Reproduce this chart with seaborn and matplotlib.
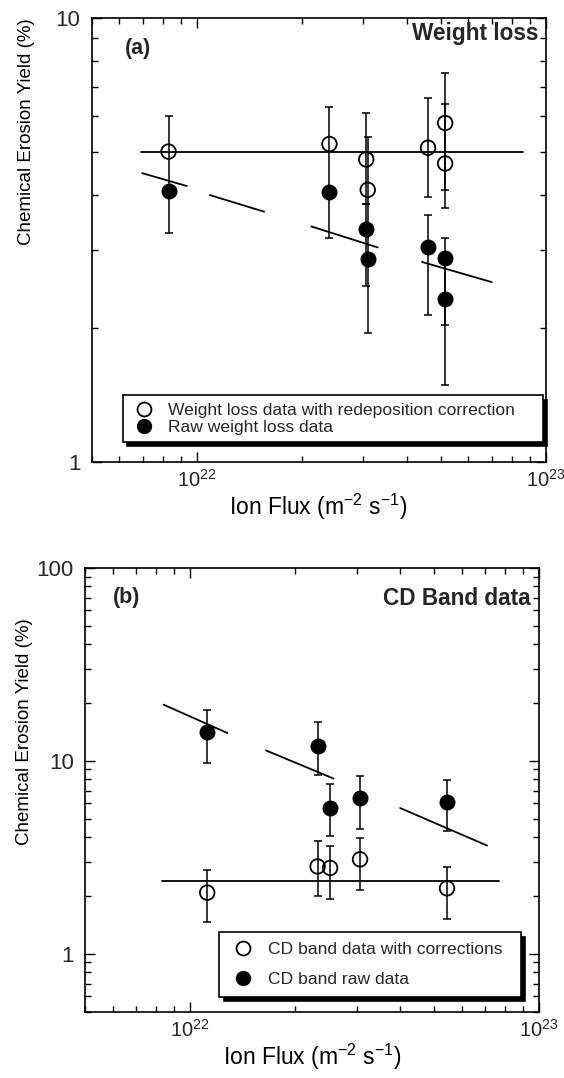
import numpy as np
import pandas as pd
import seaborn as sns
import matplotlib
matplotlib.use("Agg")
import matplotlib.pyplot as plt
from matplotlib.lines import Line2D
from matplotlib.ticker import LogLocator, NullFormatter, FuncFormatter

sns.set_theme(style="ticks")
plt.rcParams['font.family'] = ['Liberation Sans', 'DejaVu Sans']
plt.rcParams['mathtext.fontset'] = 'custom'
plt.rcParams['mathtext.rm'] = 'Liberation Sans'
plt.rcParams['mathtext.it'] = 'Liberation Sans'

# ---- panel (a): weight loss ----
a_open_x = [8.3e21, 2.4e22, 3.06e22, 3.09e22, 4.6e22, 5.15e22, 5.15e22]
a_open_y = [5.0, 5.2, 4.8, 4.1, 5.1, 5.8, 4.7]
a_open_lo = [4.1, 4.1, 3.8, 3.35, 3.96, 4.1, 3.74]
a_open_hi = [6.0, 6.3, 6.1, 5.4, 6.6, 7.5, 6.4]

a_raw_x = [8.3e21, 2.4e22, 3.06e22, 3.09e22, 4.6e22, 5.15e22, 5.15e22]
a_raw_y = [4.08, 4.06, 3.35, 2.86, 3.05, 2.88, 2.33]
a_raw_lo = [3.27, 3.2, 2.49, 1.95, 2.14, 2.03, 1.49]
a_raw_hi = [4.08, 4.06, 3.8, 3.35, 3.6, 3.19, 2.88]

a_flat_x = [6.9e21, 8.6e22]
a_flat_y = [5.0, 5.0]
a_fit_seg = [0, 0, 1, 1, 2, 2, 3, 3]
a_fit_x = [6.98e21, 9.37e21, 1.09e22, 1.56e22, 2.13e22, 3.30e22, 4.42e22, 7.0e22]
a_fit_y = [4.47, 4.18, 3.99, 3.66, 3.39, 3.04, 2.82, 2.54]

# ---- panel (b): CD band ----
b_open_x = [1.12e22, 2.32e22, 2.52e22, 3.07e22, 5.45e22]
b_open_y = [2.07, 2.83, 2.78, 3.08, 2.18]
b_open_lo = [1.45, 2.0, 1.93, 2.13, 1.52]
b_open_hi = [2.70, 3.82, 3.6, 3.99, 2.81]

b_raw_x = [1.12e22, 2.32e22, 2.52e22, 3.07e22, 5.45e22]
b_raw_y = [14.1, 11.9, 5.7, 6.4, 6.1]
b_raw_lo = [9.76, 8.46, 4.05, 4.44, 4.32]
b_raw_hi = [18.2, 15.8, 7.6, 8.3, 7.9]

b_flat_x = [8.3e21, 7.7e22]
b_flat_y = [2.38, 2.38]
b_fit_seg = [0, 0, 1, 1, 2, 2]
b_fit_x = [8.4e21, 1.28e22, 1.65e22, 2.58e22, 4.0e22, 7.1e22]
b_fit_y = [19.5, 13.9, 11.3, 8.07, 5.68, 3.63]


def draw_panel(ax, open_x, open_y, open_lo, open_hi, raw_x, raw_y, raw_lo, raw_hi,
               flat_x, flat_y, fit_seg, fit_x, fit_y):
    flat = pd.DataFrame({"x": flat_x, "y": flat_y})
    sns.lineplot(data=flat, x="x", y="y", color="black", lw=1.3, ax=ax)
    fit = pd.DataFrame({"x": fit_x, "y": fit_y, "seg": fit_seg})
    sns.lineplot(data=fit, x="x", y="y", units="seg", estimator=None,
                 color="black", lw=1.3, ax=ax)

    for xs, ys, lo, hi in [(open_x, open_y, open_lo, open_hi),
                           (raw_x, raw_y, raw_lo, raw_hi)]:
        ys = np.array(ys)
        yerr = [ys - np.array(lo), np.array(hi) - ys]
        ax.errorbar(xs, ys, yerr=yerr, fmt="none", ecolor="black",
                    elinewidth=1.1, capsize=2.6, capthick=1.1, zorder=2)

    sns.scatterplot(x=raw_x, y=raw_y, s=110, color="black", edgecolor="black",
                    linewidth=1, ax=ax, zorder=4)
    sns.scatterplot(x=open_x, y=open_y, s=110, facecolor="none", edgecolor="black",
                    linewidth=1.3, ax=ax, zorder=4)

    ax.set_xscale("log")
    ax.set_yscale("log")
    ax.set_xlim(5e21, 1e23)
    ax.xaxis.set_major_locator(LogLocator(base=10, numticks=10))
    ax.xaxis.set_minor_locator(LogLocator(base=10, subs=np.arange(2, 10), numticks=20))
    ax.xaxis.set_minor_formatter(NullFormatter())
    ax.yaxis.set_major_locator(LogLocator(base=10, numticks=10))
    ax.yaxis.set_minor_locator(LogLocator(base=10, subs=np.arange(2, 10), numticks=20))
    ax.yaxis.set_minor_formatter(NullFormatter())
    ax.yaxis.set_major_formatter(FuncFormatter(lambda v, p: "%g" % v))
    ax.xaxis.set_major_formatter(FuncFormatter(lambda v, p: r"$10^{%d}$" % round(np.log10(v))))
    ax.tick_params(which="both", direction="in", top=True, right=True, color="black",
                   labelsize=16, width=1)
    ax.tick_params(axis="x", which="major", labelsize=14.5, pad=5)
    ax.tick_params(which="major", length=7)
    ax.tick_params(which="minor", length=4.5)
    ax.tick_params(axis="y", which="major", pad=8)
    for sp in ax.spines.values():
        sp.set_visible(True)
        sp.set_color("black")
        sp.set_linewidth(1.2)
    ax.set_xlabel(r"Ion Flux (m$^{-2}$ s$^{-1}$)", fontsize=16.5, color="black", labelpad=1)
    ax.set_ylabel("Chemical Erosion Yield (%)", fontsize=13.5, color="black")
    ax.grid(False)


fig = plt.figure(figsize=(5.64, 10.78), dpi=100)
fig.patch.set_facecolor("white")
ax1 = fig.add_axes([0.1626, 0.5717, 0.805, 0.4116])
ax2 = fig.add_axes([0.1507, 0.0615, 0.805, 0.4119])

draw_panel(ax1, a_open_x, a_open_y, a_open_lo, a_open_hi, a_raw_x, a_raw_y, a_raw_lo,
           a_raw_hi, a_flat_x, a_flat_y, a_fit_seg, a_fit_x, a_fit_y)
ax1.set_ylim(1, 10)
ax1.yaxis.set_label_coords(-0.124, 0.745)
ax1.text(0.073, 0.955, "(a)", transform=ax1.transAxes, fontsize=15.5,
         fontweight="bold", va="top", ha="left")
ax1.text(0.984, 0.99, "Weight loss", transform=ax1.transAxes, fontsize=16.3,
         fontweight="bold", va="top", ha="right")

draw_panel(ax2, b_open_x, b_open_y, b_open_lo, b_open_hi, b_raw_x, b_raw_y, b_raw_lo,
           b_raw_hi, b_flat_x, b_flat_y, b_fit_seg, b_fit_x, b_fit_y)
ax2.set_ylim(0.5, 100)
ax2.yaxis.set_label_coords(-0.114, 0.63)
ax2.text(0.062, 0.957, "(b)", transform=ax2.transAxes, fontsize=15.5,
         fontweight="bold", va="top", ha="left")
ax2.text(0.982, 0.957, "CD Band data", transform=ax2.transAxes, fontsize=16.3,
         fontweight="bold", va="top", ha="right")

open_h = Line2D([], [], ls="none", marker="o", ms=10, mfc="white", mec="black", mew=1.3)
raw_h = Line2D([], [], ls="none", marker="o", ms=10, mfc="black", mec="black")
shadow = {"color": "black", "alpha": 1, "ox": 3, "oy": -3}

leg1 = ax1.legend([open_h, raw_h],
                  ["Weight loss data with redeposition correction", "Raw weight loss data"],
                  loc="lower left", bbox_to_anchor=(0.068, 0.045, 0.925, 0.12), mode="expand",
                  fontsize=12.6, frameon=True, fancybox=False, shadow=shadow,
                  edgecolor="black", framealpha=1, borderaxespad=0, labelspacing=0.1,
                  handletextpad=0.6, borderpad=0.4, handlelength=1.6)
leg1.get_frame().set_linewidth(1.2)

leg2 = ax2.legend([open_h, raw_h],
                  ["CD band data with corrections", "CD band raw data"],
                  loc="lower left", bbox_to_anchor=(0.296, 0.033, 0.665, 0.14), mode="expand",
                  fontsize=12.6, frameon=True, fancybox=False, shadow=shadow,
                  edgecolor="black", framealpha=1, borderaxespad=0, labelspacing=0.85,
                  handletextpad=0.6, borderpad=0.55, handlelength=1.6)
leg2.get_frame().set_linewidth(1.2)

fig.savefig("out.png", dpi=100, facecolor="white")
